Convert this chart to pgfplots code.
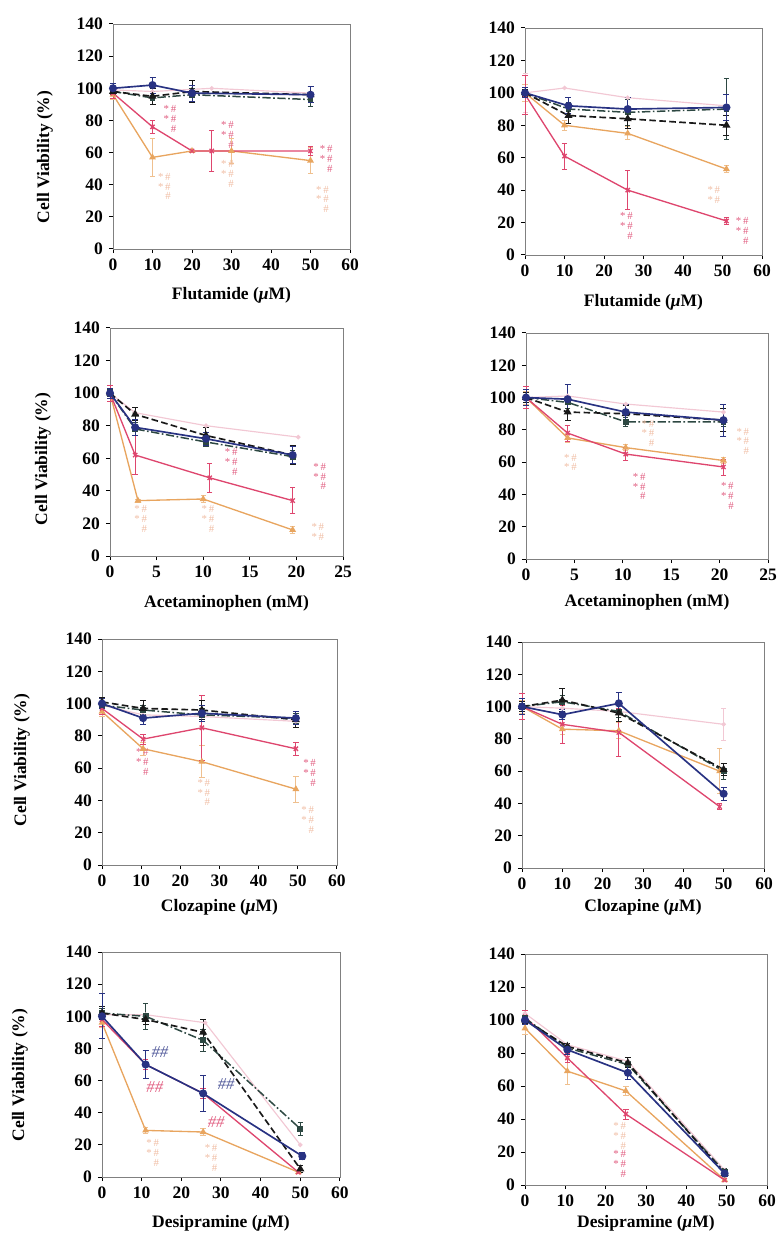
\documentclass[border=0pt]{standalone}
\usepackage{fontspec}
\setmainfont{Liberation Serif}
\usepackage{pgfplots}
\pgfplotsset{compat=1.18}

\definecolor{cB}{RGB}{40,50,130}
\definecolor{cK}{RGB}{25,25,25}
\definecolor{cG}{RGB}{45,72,66}
\definecolor{cP}{RGB}{242,200,212}
\definecolor{cR}{RGB}{222,70,110}
\definecolor{cO}{RGB}{232,165,95}
\definecolor{aR}{RGB}{225,95,130}
\definecolor{aO}{RGB}{240,190,165}

% significance marks, stacked as in the scan
\newcommand{\sgA}{\begin{tabular}{@{}c@{\,}c@{}}{*}&\#\\{}{*}&\#\\{}&\#\end{tabular}}
\newcommand{\sgB}{\begin{tabular}{@{}c@{\,}c@{}}{*}&\#\\{}{*}&\#\end{tabular}}
\tikzset{
  sigR/.style={text=aR, font=\fontsize{6.5}{5.5}\selectfont, inner sep=0pt},
  sigO/.style={text=aO, font=\fontsize{6.5}{5.5}\selectfont, inner sep=0pt},
  hashB/.style={text=cB!80, font=\fontsize{10}{10}\selectfont\itshape, inner sep=0pt},
  hashR/.style={text=aR, font=\fontsize{10}{10}\selectfont\itshape, inner sep=0pt},
  ylab/.style={rotate=90, font=\fontsize{10.5}{12}\selectfont\bfseries}
}

\pgfplotsset{
  panel/.style={scale only axis, anchor=south west, clip=false,
    ymin=0, ymax=140, ytick={0,20,...,140},
    axis line style={black!50, line width=0.5pt},
    tick style={black, line width=0.6pt}, tick align=outside, major tick length=2.5pt,
    xtick pos=bottom, ytick pos=left,
    ticklabel style={font=\fontsize{10.5}{12}\selectfont\bfseries},
    /pgf/number format/assume math mode=true,
    xlabel style={font=\fontsize{10.5}{12}\selectfont\bfseries,
      at={(axis description cs:0.5,0)}, anchor=center}},
  um/.style={xmin=0, xmax=60, xtick={0,10,...,60}},
  mm/.style={xmin=0, xmax=25, xtick={0,5,...,25}},
  sB/.style={cB, solid, line width=1pt, mark=*, mark size=1.9pt,
    error bars/.cd, y dir=both, y explicit,
    error bar style={cB, line width=0.6pt, solid},
    error mark options={rotate=90, cB, mark size=1.8pt, line width=0.6pt}},
  sK/.style={cK, dash pattern=on 4pt off 2pt, line width=1pt, mark=triangle*, mark size=1.8pt, mark options={solid},
    error bars/.cd, y dir=both, y explicit,
    error bar style={cK, line width=0.6pt, solid},
    error mark options={rotate=90, cK, mark size=1.8pt, line width=0.6pt}},
  sG/.style={cG, dash pattern=on 5pt off 1.5pt on 1pt off 1.5pt, line width=0.9pt, mark=square*, mark size=1.3pt, mark options={solid},
    error bars/.cd, y dir=both, y explicit,
    error bar style={cG, line width=0.5pt, solid},
    error mark options={rotate=90, cG, mark size=1.6pt, line width=0.5pt}},
  sP/.style={cP, solid, line width=0.7pt, mark=*, mark size=1pt,
    error bars/.cd, y dir=both, y explicit,
    error bar style={cP, line width=0.5pt},
    error mark options={rotate=90, cP, mark size=1.5pt}},
  sR/.style={cR, solid, line width=0.8pt, mark=x, mark size=1.8pt,
    error bars/.cd, y dir=both, y explicit,
    error bar style={cR, line width=0.5pt},
    error mark options={rotate=90, cR, mark size=1.6pt, line width=0.5pt}},
  sO/.style={cO, solid, line width=0.8pt, mark=triangle*, mark size=1.6pt,
    error bars/.cd, y dir=both, y explicit,
    error bar style={cO!70, line width=0.5pt},
    error mark options={rotate=90, cO!70, mark size=1.6pt, line width=0.5pt}},
}

\begin{document}
\begin{tikzpicture}
\useasboundingbox (0,0) rectangle (467.4pt,-740.4pt);

% ---------------- row 1 left: Flutamide
\begin{axis}[panel, um, at={(67.8pt,-149.4pt)}, width=142.2pt, height=135pt,
  xlabel={Flutamide (\textit{μ}M)}, xlabel style={yshift=-27.6pt}]
\addplot[sP] coordinates {(0,99) (10,98) (25,100) (50,97)};
\addplot[sO] coordinates {(0,96) +- (0,3) (10,57) +- (0,12) (20,61) +- (0,0) (30,61) +- (0,8) (50,55) +- (0,8)};
\addplot[sR] coordinates {(0,97) +- (0,3) (10,76) +- (0,4) (20,61) +- (0,0) (25,61) +- (0,13) (50,61) +- (0,3)};
\addplot[sG] coordinates {(0,98) +- (0,2) (10,94) +- (0,4) (20,96) +- (0,4) (50,93) +- (0,4)};
\addplot[sK] coordinates {(0,98) +- (0,2) (10,95) +- (0,5) (20,98) +- (0,7) (50,96) +- (0,5)};
\addplot[sB] coordinates {(0,100) +- (0,3) (10,102) +- (0,5) (20,97) +- (0,5) (50,96) +- (0,5)};
\node[sigR] at (axis cs:14.4,80) {\sgA};
\node[sigR] at (axis cs:29,70) {\sgA};
\node[sigR] at (axis cs:54,55) {\sgA};
\node[sigO] at (axis cs:13,38) {\sgA};
\node[sigO] at (axis cs:29,46) {\sgA};
\node[sigO] at (axis cs:53,30) {\sgA};
\end{axis}
\node[ylab] at (27pt,-94.2pt) {Cell Viability (\%)};

% ---------------- row 1 right: Flutamide
\begin{axis}[panel, um, at={(315pt,-153pt)}, width=142.2pt, height=136.2pt,
  xlabel={Flutamide (\textit{μ}M)}, xlabel style={yshift=-28.2pt}]
\addplot[sP] coordinates {(0,100) +- (0,12) (10,103) +- (0,0) (26,97) +- (0,0) (51,92) +- (0,0)};
\addplot[sO] coordinates {(0,100) +- (0,5) (10,80) +- (0,3) (26,75) +- (0,4) (51,53) +- (0,2)};
\addplot[sR] coordinates {(0,99) +- (0,12) (10,61) +- (0,8) (26,40) +- (0,12) (51,21) +- (0,2)};
\addplot[sG] coordinates {(0,100) +- (0,2) (11,90) +- (0,4) (26,88) +- (0,8) (51,90) +- (0,19)};
\addplot[sK] coordinates {(0,100) +- (0,2) (11,86) +- (0,5) (26,84) +- (0,6) (51,80) +- (0,6)};
\addplot[sB] coordinates {(0,100) +- (0,3) (11,92) +- (0,5) (26,90) +- (0,7) (51,91) +- (0,8)};
\node[sigO] at (axis cs:47.8,36) {\sgB};
\node[sigR] at (axis cs:25.7,17) {\sgA};
\node[sigR] at (axis cs:55,14) {\sgA};
\end{axis}

% ---------------- row 2 left: Acetaminophen
\begin{axis}[panel, mm, at={(66pt,-333.6pt)}, width=139.8pt, height=136.8pt,
  xlabel={Acetaminophen (mM)}, xlabel style={yshift=-28.2pt}]
\addplot[sP] coordinates {(0,100) (2.7,88) (10.3,80) (20.2,73)};
\addplot[sO] coordinates {(0,100) +- (0,3) (3,34) +- (0,1) (10,35) +- (0,2) (19.6,16) +- (0,2)};
\addplot[sR] coordinates {(0,100) +- (0,5) (2.7,62) +- (0,12) (10.7,48) +- (0,9) (19.6,34) +- (0,8)};
\addplot[sG] coordinates {(0,100) +- (0,2) (2.7,78) +- (0,4) (10.3,70) +- (0,3) (19.6,61) +- (0,4)};
\addplot[sK] coordinates {(0,100) +- (0,3) (2.7,87) +- (0,4) (10.3,74) +- (0,5) (19.6,62) +- (0,6)};
\addplot[sB] coordinates {(0,100) +- (0,3) (2.7,79) +- (0,5) (10.3,72) +- (0,4) (19.6,62) +- (0,5)};
\node[sigR] at (axis cs:13,57) {\sgA};
\node[sigR] at (axis cs:22.5,48) {\sgA};
\node[sigO] at (axis cs:3.3,22) {\sgA};
\node[sigO] at (axis cs:10.5,22) {\sgA};
\node[sigO] at (axis cs:22.3,14) {\sgB};
\end{axis}
\node[ylab] at (25.8pt,-275.4pt) {Cell Viability (\%)};

% ---------------- row 2 right: Acetaminophen
\begin{axis}[panel, mm, at={(315.6pt,-335.4pt)}, width=145.2pt, height=135.6pt,
  xlabel={Acetaminophen (mM)}, xlabel style={yshift=-25.8pt}]
\addplot[sP] coordinates {(0,100) (4.3,101) (10.3,96) (20.4,91)};
\addplot[sO] coordinates {(0,100) +- (0,4) (4.3,75) +- (0,3) (10.3,69) +- (0,2) (20.4,61) +- (0,2)};
\addplot[sR] coordinates {(0,100) +- (0,7) (4.3,78) +- (0,5) (10.3,65) +- (0,4) (20.4,57) +- (0,5)};
\addplot[sG] coordinates {(0,100) +- (0,3) (4.3,97) +- (0,4) (10.3,85) +- (0,3) (20.4,85) +- (0,3)};
\addplot[sK] coordinates {(0,100) +- (0,3) (4.3,91) +- (0,5) (10.3,90) +- (0,5) (20.4,86) +- (0,7)};
\addplot[sB] coordinates {(0,100) +- (0,5) (4.3,99) +- (0,9) (10.3,91) +- (0,5) (20.4,86) +- (0,10)};
\node[sigO] at (axis cs:4.6,59) {\sgB};
\node[sigO] at (axis cs:12.6,77) {\sgA};
\node[sigO] at (axis cs:22.4,72) {\sgA};
\node[sigR] at (axis cs:11.7,44) {\sgA};
\node[sigR] at (axis cs:20.8,38) {\sgA};
\end{axis}

% ---------------- row 3 left: Clozapine
\begin{axis}[panel, um, at={(61.2pt,-519pt)}, width=141pt, height=135.6pt,
  xlabel={Clozapine (\textit{μ}M)}, xlabel style={yshift=-25.2pt}]
\addplot[sP] coordinates {(0,99) (10.5,93) (25.5,92) (49.5,89)};
\addplot[sO] coordinates {(0,95) +- (0,3) (10.5,72) +- (0,4) (25.5,64) +- (0,10) (49.5,47) +- (0,8)};
\addplot[sR] coordinates {(0,97) +- (0,4) (10.5,78) +- (0,3) (25.5,85) +- (0,20) (49.5,72) +- (0,4)};
\addplot[sG] coordinates {(0,99) +- (0,2) (10.5,96) +- (0,3) (25.5,93) +- (0,4) (49.5,91) +- (0,3)};
\addplot[sK] coordinates {(0,101) +- (0,3) (10.5,97) +- (0,5) (25.5,96) +- (0,6) (49.5,90) +- (0,5)};
\addplot[sB] coordinates {(0,100) +- (0,3) (10.5,91) +- (0,4) (25.5,94) +- (0,5) (49.5,91) +- (0,4)};
\node[sigR] at (axis cs:10.3,63) {\sgA};
\node[sigO] at (axis cs:26,44) {\sgA};
\node[sigR] at (axis cs:53,56) {\sgA};
\node[sigO] at (axis cs:52.5,27) {\sgA};
\end{axis}
\node[ylab] at (13.2pt,-456pt) {Cell Viability (\%)};

% ---------------- row 3 right: Clozapine
\begin{axis}[panel, um, at={(313.2pt,-520.8pt)}, width=145.2pt, height=135.6pt,
  xlabel={Clozapine (\textit{μ}M)}, xlabel style={yshift=-23.4pt}]
\addplot[sP] coordinates {(0,100) +- (0,0) (10,99) +- (0,0) (24,97) +- (0,0) (50,89) +- (0,10)};
\addplot[sO] coordinates {(0,100) +- (0,4) (10,86) +- (0,3) (24,85) +- (0,5) (49,60) +- (0,14)};
\addplot[sR] coordinates {(0,100) +- (0,8) (10,89) +- (0,12) (24,84) +- (0,15) (49,38) +- (0,2)};
\addplot[sG] coordinates {(0,100) +- (0,2) (10,103) +- (0,4) (24,97) +- (0,4) (50,60) +- (0,5)};
\addplot[sK] coordinates {(0,100) +- (0,3) (10,104) +- (0,7) (24,96) +- (0,5) (50,61) +- (0,4)};
\addplot[sB] coordinates {(0,100) +- (0,5) (10,95) +- (0,3) (24,102) +- (0,7) (50,46) +- (0,4)};
\end{axis}

% ---------------- row 4 left: Desipramine
\begin{axis}[panel, um, at={(61.2pt,-706.2pt)}, width=142.8pt, height=135pt,
  xlabel={Desipramine (\textit{μ}M)}, xlabel style={yshift=-27.6pt}]
\addplot[sP] coordinates {(0,101) (11,101) (26,96) (50,20)};
\addplot[sO] coordinates {(0,96) +- (0,3) (11,29) +- (0,2) (25.5,28) +- (0,2) (49.5,3) +- (0,1)};
\addplot[sR] coordinates {(0,98) +- (0,4) (11,70) +- (0,3) (25.5,52) +- (0,3) (49.5,3) +- (0,1)};
\addplot[sG] coordinates {(0,102) +- (0,3) (11,100) +- (0,8) (25.5,85) +- (0,7) (50,30) +- (0,4)};
\addplot[sK] coordinates {(0,102) +- (0,4) (11,98) +- (0,3) (25.5,90) +- (0,8) (50,5) +- (0,2)};
\addplot[sB] coordinates {(0,100) +- (0,14) (11,70) +- (0,9) (25.5,52) +- (0,11) (50.5,13) +- (0,2)};
\node[hashB] at (axis cs:14.6,78) {\#\#};
\node[hashR] at (axis cs:13.3,56) {\#\#};
\node[hashB] at (axis cs:31.3,58) {\#\#};
\node[hashR] at (axis cs:28.8,34) {\#\#};
\node[sigO] at (axis cs:12.8,14) {\sgA};
\node[sigO] at (axis cs:27.5,11) {\sgA};
\end{axis}
\node[ylab] at (12pt,-645pt) {Cell Viability (\%)};

% ---------------- row 4 right: Desipramine
\begin{axis}[panel, um, at={(315pt,-711pt)}, width=145.2pt, height=138.6pt,
  xlabel={Desipramine (\textit{μ}M)}, xlabel style={yshift=-22.8pt}]
\addplot[sP] coordinates {(0,104) (10.5,85) (25.5,75) (49.5,9)};
\addplot[sO] coordinates {(0,95) +- (0,4) (10.5,69) +- (0,8) (25,57) +- (0,3) (49.5,3) +- (0,1)};
\addplot[sR] coordinates {(0,102) +- (0,4) (10.5,77) +- (0,3) (25,43) +- (0,3) (49.5,3) +- (0,1)};
\addplot[sG] coordinates {(0,101) +- (0,2) (10.5,83) +- (0,2) (25.5,73) +- (0,2) (49.5,8) +- (0,2)};
\addplot[sK] coordinates {(0,100) +- (0,2) (10.5,84) +- (0,2) (25.5,74) +- (0,3) (49.5,7) +- (0,2)};
\addplot[sB] coordinates {(0,100) +- (0,3) (10.5,82) +- (0,3) (25.5,68) +- (0,4) (49.5,7) +- (0,2)};
\node[sigO] at (axis cs:23.5,29) {\sgA};
\node[sigR] at (axis cs:23.5,12) {\sgA};
\end{axis}
\end{tikzpicture}
\end{document}
